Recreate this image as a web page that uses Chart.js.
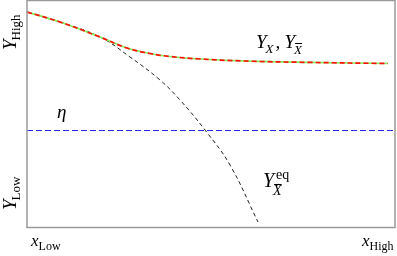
<!DOCTYPE html>
<html>
<head>
<meta charset="utf-8">
<script src="https://cdn.jsdelivr.net/npm/chart.js@4"></script>
<style>
  html, body { margin: 0; padding: 0; background: #fff; }
  #wrap { width: 397px; height: 256px; }
</style>
</head>
<body>
<div id="wrap"><canvas id="myChart"></canvas></div>
<script>
// x runs from x_Low (0) to x_High (368), y from Y_Low (0) up to Y_High (227)
var upperX = [0, 33, 73, 100, 123, 143, 173, 223, 283, 361];
var upperY = [215, 205, 190, 179, 173.5, 170.5, 168, 165.8, 164.6, 163.5];

var eqX = [0, 33, 73, 103, 133, 153, 178, 203, 231];
var eqY = [215, 205, 190, 170, 147, 127, 97, 62, 5];

var etaX = [0, 368];
var etaY = [96.5, 96.5];

function pts(xs, ys) {
	var out = [];
	for (var i = 0; i < xs.length; i++) out.push({x: xs[i], y: ys[i]});
	return out;
}

var serif = "'Liberation Serif', 'DejaVu Serif', serif";

// text with a subscript, optional superscript and overbar on the subscript
function mathLabel(ctx, x, y, main, sub, size, opts) {
	opts = opts || {};
	ctx.font = "italic " + size + "px " + serif;
	ctx.fillText(main, x, y);
	var w = ctx.measureText(main).width;
	var subSize = Math.round(size * 0.7);
	ctx.font = (opts.subItalic ? "italic " : "") + subSize + "px " + serif;
	var sx = x + w + (opts.subShift || 0);
	var sy = y + size * (opts.subDrop || 0.22);
	ctx.fillText(sub, sx, sy);
	var sw = ctx.measureText(sub).width;
	if (opts.bar) {
		ctx.save();
		ctx.lineWidth = 1;
		ctx.strokeStyle = "#000";
		ctx.beginPath();
		ctx.moveTo(sx + 1, Math.round(sy - subSize * 0.82) + 0.5);
		ctx.lineTo(sx + sw, Math.round(sy - subSize * 0.82) + 0.5);
		ctx.stroke();
		ctx.restore();
	}
	if (opts.sup) {
		ctx.font = subSize + "px " + serif;
		ctx.fillText(opts.sup, x + w + 2, y - size * 0.4);
	}
	return x + w + sw;
}

var decor = {
	id: "decor",
	afterDraw: function (chart) {
		var ctx = chart.ctx;
		var a = chart.chartArea;
		ctx.save();
		// frame
		ctx.strokeStyle = "#9a9a9a";
		ctx.lineWidth = 1.5;
		ctx.strokeRect(a.left, a.top + 0.5, a.right - a.left, a.bottom - a.top);

		ctx.fillStyle = "#000";
		ctx.textBaseline = "alphabetic";
		ctx.textAlign = "left";

		// rotated y labels
		ctx.save();
		ctx.translate(16, 50);
		ctx.rotate(-Math.PI / 2);
		mathLabel(ctx, 0, 0, "Y", "High", 19, {subShift: -1});
		ctx.restore();

		ctx.save();
		ctx.translate(16, 210);
		ctx.rotate(-Math.PI / 2);
		mathLabel(ctx, 0, 0, "Y", "Low", 19, {subShift: -1});
		ctx.restore();

		// x labels
		mathLabel(ctx, 31, 246, "x", "Low", 17, {subShift: 0});
		mathLabel(ctx, 362, 246, "x", "High", 17, {subShift: 0});

		// eta
		ctx.font = "italic 19px " + serif;
		ctx.fillText("\u03B7", 57, 118);

		// Y_X, Y_Xbar
		var nx = mathLabel(ctx, 256, 48, "Y", "X", 19, {subItalic: true, subShift: -1, subDrop: 0.25});
		ctx.font = "19px " + serif;
		ctx.fillText(",", nx + 1, 48);
		mathLabel(ctx, nx + 10, 48, "Y", "X", 19, {subItalic: true, subShift: -1, subDrop: 0.3, bar: true});

		// Y^eq_Xbar
		mathLabel(ctx, 263, 187, "Y", "X", 20, {subItalic: true, subShift: -1, subDrop: 0.4, bar: true, sup: "eq"});

		ctx.restore();
	}
};

var ctx = document.getElementById("myChart").getContext("2d");
var chart = new Chart(ctx, {
	type: "line",
	data: {
		datasets: [
			{
				// red dashes over a green line
				data: pts(upperX, upperY),
				borderColor: "#ff1010",
				borderWidth: 1.7,
				borderDash: [5, 3],
				pointRadius: 0,
				tension: 0.4,
				order: 0
			},
			{
				data: pts(upperX, upperY),
				borderColor: "#84f25c",
				borderWidth: 1.7,
				pointRadius: 0,
				tension: 0.4,
				order: 1
			},
			{
				data: pts(eqX, eqY),
				borderColor: "#222222",
				borderWidth: 1,
				borderDash: [4, 3],
				pointRadius: 0,
				tension: 0.4,
				order: 2
			},
			{
				data: pts(etaX, etaY),
				borderColor: "#2a2aff",
				borderWidth: 1,
				borderDash: [6, 3],
				pointRadius: 0,
				order: 3
			}
		]
	},
	options: {
		responsive: true,
		maintainAspectRatio: false,
		animation: false,
		layout: { padding: { left: 27, right: 2, top: 0, bottom: 29 } },
		plugins: { legend: { display: false }, tooltip: { enabled: false } },
		scales: {
			x: { type: "linear", min: 0, max: 368, display: false },
			y: { type: "linear", min: 0, max: 227, display: false }
		}
	},
	plugins: [decor]
});
</script>
</body>
</html>
